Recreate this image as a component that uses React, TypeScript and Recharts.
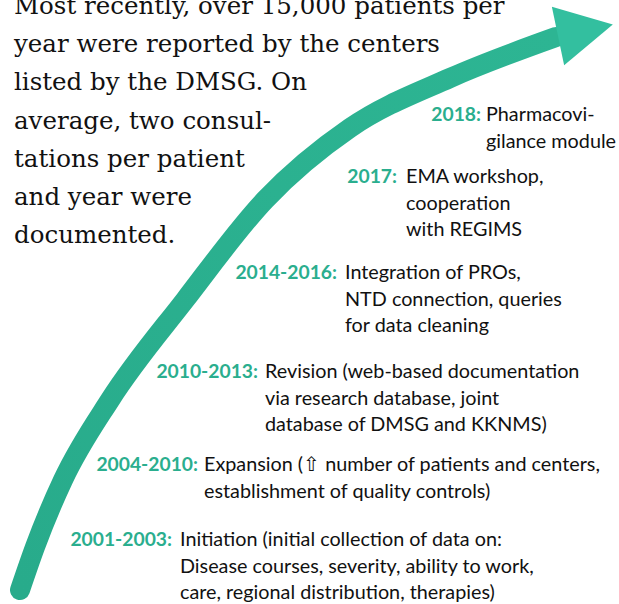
import React from 'react';
import { ComposedChart, Line, Scatter, XAxis, YAxis } from 'recharts';

// centre line of the big arrow (x right, y down)
const arrowX = [20, 35, 63, 110, 185, 265, 350, 450, 556];
const arrowY = [590, 547, 480, 400, 300, 200, 128, 78, 37];
const arrowHeadAt = { x: 558, y: 36 };

const intro = [
  'Most recently, over 15,000 patients per',
  'year were reported by the centers',
  'listed by the DMSG. On',
  'average, two consul-',
  'tations per patient',
  'and year were',
  'documented.',
];

const periods = ['2001-2003:', '2004-2010:', '2010-2013:', '2014-2016:', '2017:', '2018:'];
const events = [
  ['Initiation (initial collection of data on:', 'Disease courses, severity, ability to work,', 'care, regional distribution, therapies)'],
  ['Expansion (\u21e7 number of patients and centers,', 'establishment of quality controls)'],
  ['Revision (web-based documentation', 'via research database, joint', 'database of DMSG and KKNMS)'],
  ['Integration of PROs,', 'NTD connection, queries', 'for data cleaning'],
  ['EMA workshop,', 'cooperation', 'with REGIMS'],
  ['Pharmacovi-', 'gilance module'],
];

// where each milestone sits: end of the year label, first baseline, gap to text
const anchors = [
  { x: 172, y: 546, gap: 8 },
  { x: 198, y: 471, gap: 6 },
  { x: 258, y: 378, gap: 7 },
  { x: 337, y: 279, gap: 8 },
  { x: 397, y: 183, gap: 9 },
  { x: 481, y: 121, gap: 5 },
];

const arrowData = arrowX.map((x, i) => ({ x, y: arrowY[i] }));
const milestoneData = periods.map((p, i) => ({ x: anchors[i].x, y: anchors[i].y, period: p, lines: events[i], gap: anchors[i].gap }));

const TEAL = '#2aae8e';
const sans = 'Lato, "Open Sans", sans-serif';

const Milestone = (props: any) => {
  const { cx, cy, payload } = props;
  return (
    <g>
      <text x={cx} y={cy} textAnchor="end" fill={TEAL} fontFamily={sans} fontWeight={700} fontSize={19.3}>
        {payload.period}
      </text>
      {payload.lines.map((l: string, i: number) => (
        <text key={i} x={cx + payload.gap} y={cy + i * 26.5} fill="#111" fontFamily={sans} fontSize={19.8}>
          {l}
        </text>
      ))}
    </g>
  );
};

const ArrowHead = (props: any) => {
  const { cx, cy } = props;
  const a = (-11.8 * Math.PI) / 180;
  const ux = Math.cos(a), uy = Math.sin(a);
  const px = -uy, py = ux;
  const pts = [
    [cx + ux * 56, cy + uy * 56],
    [cx + px * 30, cy + py * 30],
    [cx - px * 30, cy - py * 30],
  ];
  return <polygon points={pts.map((p) => p.join(',')).join(' ')} fill="#33bf9f" />;
};

export default function App() {
  return (
    <div style={{ position: 'absolute', left: 0, top: 0, background: '#fff' }}>
      <ComposedChart width={619} height={604} margin={{ top: 0, right: 0, bottom: 0, left: 0 }}>
        <defs>
          <linearGradient id="shaft" x1="0" y1="1" x2="1" y2="0">
            <stop offset="0%" stopColor="#28ab8b" />
            <stop offset="100%" stopColor="#2db593" />
          </linearGradient>
        </defs>
        <XAxis type="number" dataKey="x" domain={[0, 619]} hide />
        <YAxis type="number" dataKey="y" domain={[0, 604]} reversed hide />
        <Line
          data={arrowData}
          dataKey="y"
          type="monotone"
          stroke="url(#shaft)"
          strokeWidth={20}
          strokeLinecap="round"
          dot={false}
          activeDot={false}
          isAnimationActive={false}
        />
        <Scatter data={[arrowHeadAt]} dataKey="y" shape={<ArrowHead />} isAnimationActive={false} />
        <Scatter data={milestoneData} dataKey="y" shape={<Milestone />} isAnimationActive={false} />
        <g>
          {intro.map((t, i) => (
            <text key={i} x={14} y={14 + i * 38.2} fill="#111" fontFamily='"DejaVu Serif", serif' fontSize={24.5}>
              {t}
            </text>
          ))}
        </g>
      </ComposedChart>
    </div>
  );
}
